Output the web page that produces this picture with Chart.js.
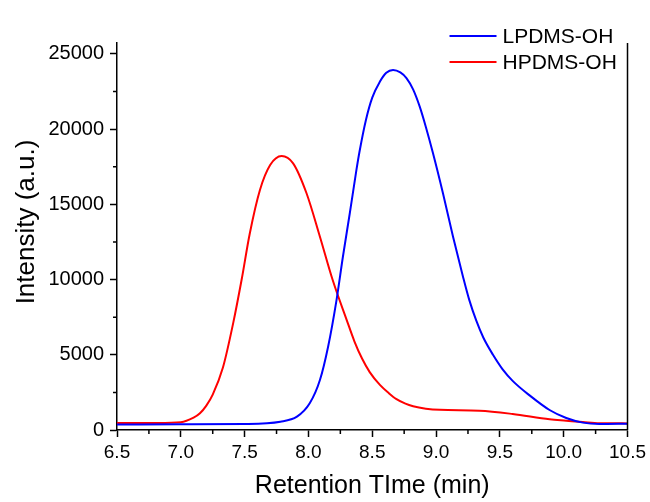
<!DOCTYPE html>
<html>
<head>
<meta charset="utf-8">
<script src="https://cdn.jsdelivr.net/npm/chart.js@4/dist/chart.umd.min.js"></script>
<style>
  html, body { margin: 0; padding: 0; background: #fff; }
  #wrap { width: 650px; height: 502px; }
</style>
</head>
<body>
<div id="wrap"><canvas id="c" width="650" height="502"></canvas></div>
<script>
// ---- data ----
const lpdmsTime = [6.5, 7.0, 7.5, 7.78, 7.91, 8.01, 8.09, 8.154, 8.22, 8.27, 8.324, 8.376, 8.40, 8.45, 8.50, 8.559, 8.61, 8.663, 8.72, 8.768, 8.82, 8.872, 8.92, 8.976, 9.054, 9.133, 9.211, 9.26, 9.316, 9.37, 9.446, 9.52, 9.602, 9.733, 9.889, 10.02, 10.15, 10.28, 10.5];
const lpdmsIntensity = [360, 380, 400, 550, 885, 1775, 3325, 5540, 8640, 11520, 14410, 17290, 18500, 20600, 22100, 23150, 23750, 23940, 23780, 23400, 22650, 21500, 20150, 18400, 15740, 12850, 10190, 8650, 7250, 6150, 5000, 4050, 3250, 2300, 1330, 800, 490, 400, 420];

const hpdmsTime = [6.5, 6.8, 7.0, 7.10, 7.15, 7.20, 7.25, 7.33, 7.41, 7.476, 7.54, 7.62, 7.70, 7.79, 7.88, 7.985, 8.09, 8.19, 8.30, 8.36, 8.42, 8.48, 8.56, 8.63, 8.69, 8.76, 8.82, 8.92, 9.03, 9.34, 9.60, 9.89, 10.02, 10.15, 10.28, 10.5];
const hpdmsIntensity = [460, 470, 520, 820, 1110, 1620, 2350, 4150, 7090, 9970, 13050, 15960, 17620, 18220, 17730, 15740, 12850, 9970, 7310, 5900, 4750, 3850, 3000, 2450, 2050, 1750, 1580, 1420, 1340, 1285, 1065, 710, 620, 530, 450, 440];

const seriesLabels = ['LPDMS-OH', 'HPDMS-OH'];
const xTitle = 'Retention TIme (min)';
const yTitle = 'Intensity (a.u.)';
const xMin = 6.5, xMax = 10.5, xStep = 0.5;
const yMin = 0, yMax = 25730;
const yMajorTicks = [0, 5000, 10000, 15000, 20000, 25000];
const xMinorTicks = [6.75, 7.25, 7.75, 8.25, 8.75, 9.25, 9.75, 10.25];
const yMinorTicks = [2500, 7500, 12500, 17500, 22500];

const FONT = '"Liberation Sans", Arial, Helvetica, sans-serif';

function pts(xs, ys) { return xs.map((x, i) => ({x: x, y: ys[i]})); }

const frame = {
  id: 'frame',
  afterDraw(chart) {
    const ctx = chart.ctx;
    const a = chart.chartArea;
    const xs = chart.scales.x, ys = chart.scales.y;
    ctx.save();
    ctx.strokeStyle = '#000';
    ctx.lineWidth = 1.5;
    // right border
    ctx.beginPath();
    ctx.moveTo(a.right, a.top);
    ctx.lineTo(a.right, a.bottom);
    ctx.stroke();
    // minor ticks
    ctx.beginPath();
    xMinorTicks.forEach(v => {
      const px = xs.getPixelForValue(v);
      ctx.moveTo(px, a.bottom);
      ctx.lineTo(px, a.bottom + 4);
    });
    yMinorTicks.forEach(v => {
      const py = ys.getPixelForValue(v);
      ctx.moveTo(a.left, py);
      ctx.lineTo(a.left - 4, py);
    });
    ctx.stroke();
    // y title
    ctx.fillStyle = '#000';
    ctx.font = '26px ' + FONT;
    ctx.textAlign = 'center';
    ctx.textBaseline = 'middle';
    ctx.translate(27, 222);
    ctx.rotate(-Math.PI / 2);
    ctx.fillText(yTitle, 0, 0);
    ctx.setTransform(1, 0, 0, 1, 0, 0);
    // legend
    const ds = chart.data.datasets;
    ctx.font = '21px ' + FONT;
    ctx.textBaseline = 'middle';
    ctx.textAlign = 'left';
    ds.forEach((d, i) => {
      const y = 36 + i * 26;
      ctx.strokeStyle = d.borderColor;
      ctx.lineWidth = 2;
      ctx.beginPath();
      ctx.moveTo(a.right - 178, y);
      ctx.lineTo(a.right - 131, y);
      ctx.stroke();
      ctx.fillStyle = '#000';
      ctx.fillText(d.label, a.right - 125, y + 1);
    });
    ctx.restore();
  }
};

new Chart(document.getElementById('c'), {
  type: 'scatter',
  data: {
    datasets: [
      { label: seriesLabels[0], data: pts(lpdmsTime, lpdmsIntensity), showLine: true, borderColor: '#0000ff', backgroundColor: '#0000ff', borderWidth: 2, pointRadius: 0, cubicInterpolationMode: 'monotone', fill: false },
      { label: seriesLabels[1], data: pts(hpdmsTime, hpdmsIntensity), showLine: true, borderColor: '#ff0000', backgroundColor: '#ff0000', borderWidth: 2, pointRadius: 0, cubicInterpolationMode: 'monotone', fill: false }
    ]
  },
  options: {
    responsive: false,
    animation: false,
    devicePixelRatio: 1,
    layout: { padding: { top: 43, right: 22, left: 0, bottom: 0 } },
    plugins: { legend: { display: false }, tooltip: { enabled: false } },
    scales: {
      x: {
        type: 'linear', min: xMin, max: xMax,
        afterFit(s) { s.height = 72; },
        ticks: { stepSize: xStep, color: '#000', padding: 4, font: { family: FONT, size: 19 }, callback: v => v.toFixed(1), maxRotation: 0, autoSkip: false },
        grid: { drawOnChartArea: false, drawTicks: true, tickLength: 7, tickWidth: 1.5, tickColor: '#000' },
        border: { display: true, color: '#000', width: 1.5 },
        title: { display: true, text: xTitle, color: '#000', font: { family: FONT, size: 25 }, padding: { top: 0, bottom: 1 } }
      },
      y: {
        type: 'linear', min: yMin, max: yMax,
        afterFit(s) { s.width = 117; },
        afterBuildTicks(s) { s.ticks = yMajorTicks.map(v => ({ value: v })); },
        ticks: { color: '#000', padding: 6, font: { family: FONT, size: 20 }, callback: v => String(v), autoSkip: false },
        grid: { drawOnChartArea: false, drawTicks: true, tickLength: 7, tickWidth: 1.5, tickColor: '#000' },
        border: { display: true, color: '#000', width: 1.5 },
        title: { display: false }
      }
    }
  },
  plugins: [frame]
});
</script>
</body>
</html>
